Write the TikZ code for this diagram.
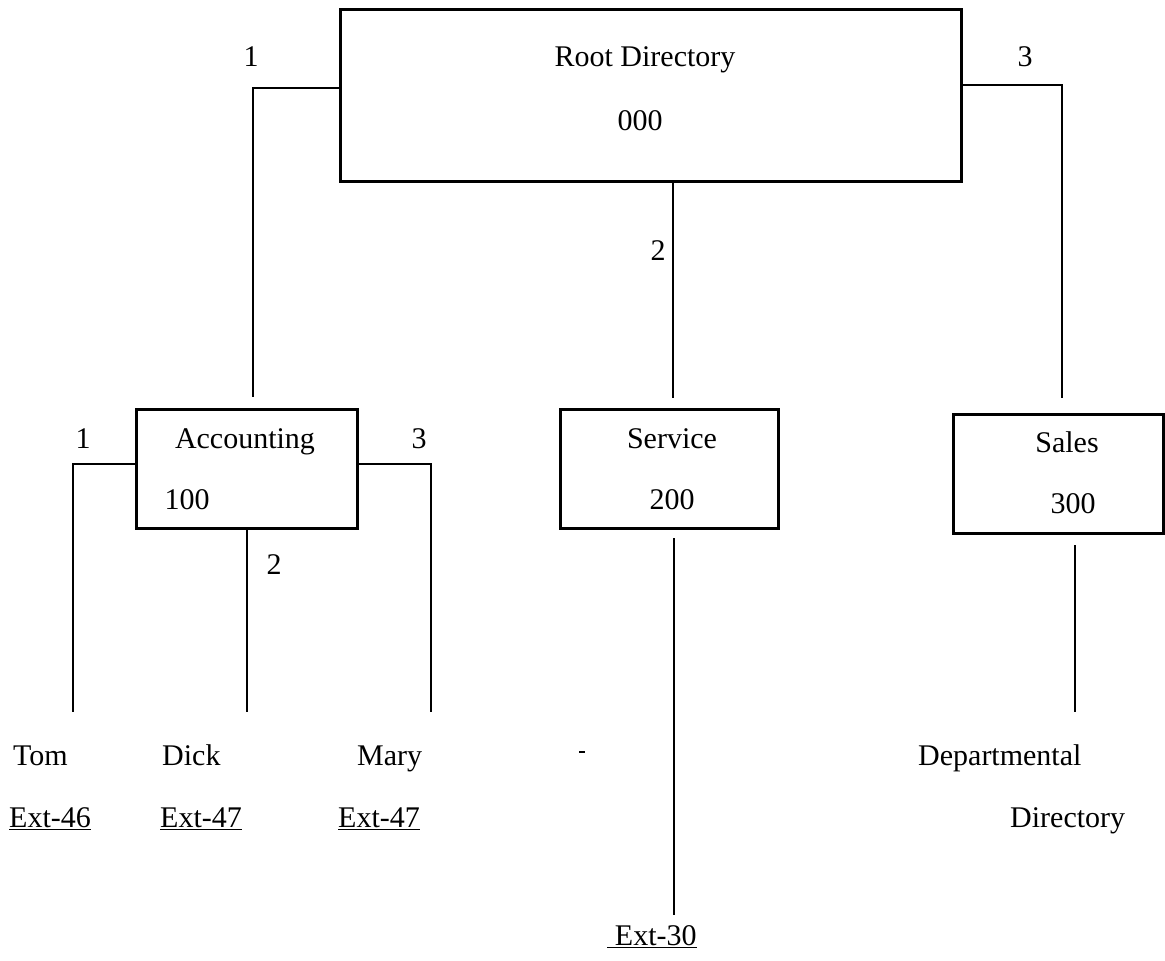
\documentclass[tikz,border=0pt]{standalone}
\usepackage{fontspec}
\setmainfont{Liberation Serif}
\begin{document}
\begin{tikzpicture}[x=1pt,y=-1pt,
  box/.style={draw, line width=2.8pt, inner sep=0pt, anchor=north west},
  wire/.style={line width=2.8pt},
  lbl/.style={inner sep=0pt, font=\fontsize{30}{36}\selectfont, anchor=base},
  lblw/.style={lbl, anchor=base west}]
\useasboundingbox (0,0) rectangle (1165,961);

% directory boxes
\node[box, minimum width=621pt, minimum height=172pt] (root) at (339,8) {};
\node[box, minimum width=221pt, minimum height=119pt] (acc) at (135,408) {};
\node[box, minimum width=218pt, minimum height=119pt] (svc) at (559,408) {};
\node[box, minimum width=210pt, minimum height=119pt] (sales) at (952,413) {};

% box texts
\node[lbl] (rootname) at (645,66) {Root Directory};
\node[lbl] (rootnum) at (640,130) {000};
\node[lbl] (accname) at (245,448) {Accounting};
\node[lbl] (accnum) at (187,509) {100};
\node[lbl] (svcname) at (672,448) {Service};
\node[lbl] (svcnum) at (672,509) {200};
\node[lbl] (salesname) at (1067,452) {Sales};
\node[lbl] (salesnum) at (1073,513) {300};

% branch numbers
\node[lbl] (r1) at (251,66) {1};
\node[lbl] (r3) at (1025,66) {3};
\node[lbl] (r2) at (658,260) {2};
\node[lbl] (a1) at (83,448) {1};
\node[lbl] (a3) at (419,448) {3};
\node[lbl] (a2) at (274,574) {2};

% leaves
\node[lblw] (tom) at (13,765) {Tom};
\node[lblw] (dick) at (162,765) {Dick};
\node[lblw] (mary) at (357,765) {Mary};
\node[lblw] (ext46) at (9,827) {\underline{Ext-46}};
\node[lblw] (ext47a) at (160,827) {\underline{Ext-47}};
\node[lblw] (ext47b) at (338,827) {\underline{Ext-47}};
\node[lbl] (ext30) at (652,945) {\underline{\ Ext-30}};
\node[lblw] (dept) at (918,765) {Departmental};
\node[lblw] (deptdir) at (1010,827) {Directory};

% connector corners and free ends
\coordinate (rl) at (253,88);
\coordinate (rlend) at (253,397);
\coordinate (rr) at (1062,85);
\coordinate (rrend) at (1062,398);
\coordinate (rmend) at (673,398);
\coordinate (al) at (73,464);
\coordinate (alend) at (73,712);
\coordinate (ar) at (431,464);
\coordinate (arend) at (431,712);
\coordinate (amend) at (247,712);
\coordinate (svctop) at (674,538);
\coordinate (svcend) at (674,915);
\coordinate (saltop) at (1075,545);
\coordinate (salend) at (1075,712);

% connectors
\draw[wire] (root.west |- rl) -- (rl) -- (rlend);
\draw[wire] (root.east |- rr) -- (rr) -- (rrend);
\draw[wire] (rmend |- root.south) -- (rmend);
\draw[wire] (acc.west |- al) -- (al) -- (alend);
\draw[wire] (acc.east |- ar) -- (ar) -- (arend);
\draw[wire] (amend |- acc.south) -- (amend);
\draw[wire] (svctop) -- (svcend);
\draw[wire] (saltop) -- (salend);

% small stray mark
\draw[line width=1.2pt] (579,752) -- (585,752);
\end{tikzpicture}
\end{document}
